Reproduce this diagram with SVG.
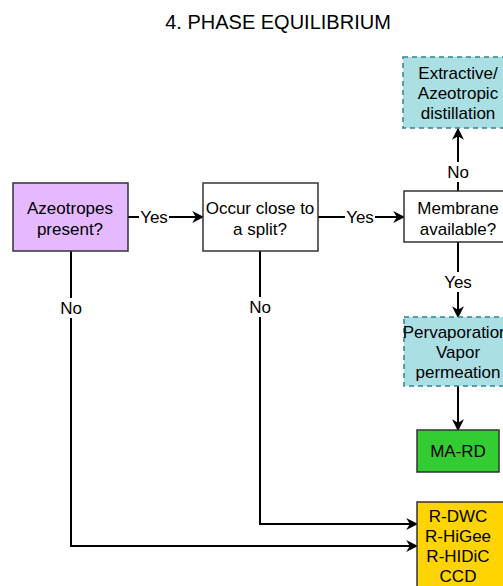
<svg xmlns="http://www.w3.org/2000/svg" width="503" height="586" viewBox="0 0 503 586">
<defs>
<marker id="arr" viewBox="0 0 10 10" refX="9" refY="5" markerWidth="12" markerHeight="12" markerUnits="userSpaceOnUse" orient="auto">
<path d="M0,0 L10,5 L0,10 L3,5 Z" fill="#000"/>
</marker>
<style>
text{font-family:"Liberation Sans",Arial,sans-serif;font-size:17px;fill:#000;text-anchor:middle}
.title{font-size:20px}
.box{stroke:#333;stroke-width:1.5}
.dash{stroke:#2a8590;stroke-width:1.5;stroke-dasharray:5 4;fill:#aadfe4}
.ln{fill:none;stroke:#000;stroke-width:2}
.lbl{fill:#fff}
</style>
</defs>
<rect width="503" height="586" fill="#fff"/>
<text class="title" x="278" y="29">4. PHASE EQUILIBRIUM</text>

<g id="connectors">
<path class="ln" d="M128,217 H203" marker-end="url(#arr)"/>
<path class="ln" d="M318,217 H404" marker-end="url(#arr)"/>
<path class="ln" d="M458,191 V129" marker-end="url(#arr)"/>
<path class="ln" d="M458,242 V317" marker-end="url(#arr)"/>
<path class="ln" d="M458,386 V430" marker-end="url(#arr)"/>
<path class="ln" d="M260,251 V524 H417" marker-end="url(#arr)"/>
<path class="ln" d="M71,251 V546 H417" marker-end="url(#arr)"/>
<rect class="lbl" x="139" y="207" width="30" height="20"/>
<text x="154" y="223">Yes</text>
<rect class="lbl" x="345" y="207" width="30" height="20"/>
<text x="360" y="223">Yes</text>
<rect class="lbl" x="446" y="162" width="24" height="20"/>
<text x="458" y="178">No</text>
<rect class="lbl" x="443" y="272" width="30" height="20"/>
<text x="458" y="288">Yes</text>
<rect class="lbl" x="59" y="298" width="24" height="20"/>
<text x="71" y="314">No</text>
<rect class="lbl" x="248" y="297" width="24" height="20"/>
<text x="260" y="313">No</text>
</g>

<g id="azeotropes">
<rect class="box" x="13" y="183" width="115" height="68" fill="#e5b9ff"/>
<text x="70" y="214">Azeotropes</text>
<text x="70" y="235">present?</text>
</g>
<g id="occur">
<rect class="box" x="203" y="183" width="115" height="68" fill="#fff"/>
<text x="260" y="214">Occur close to</text>
<text x="260" y="235">a split?</text>
</g>
<g id="membrane">
<rect class="box" x="404" y="191" width="108" height="51" fill="#fff"/>
<text x="458" y="214">Membrane</text>
<text x="458" y="235">available?</text>
</g>
<g id="extractive">
<rect class="dash" x="403" y="57" width="110" height="71"/>
<text x="458" y="79">Extractive/</text>
<text x="458" y="99">Azeotropic</text>
<text x="458" y="119">distillation</text>
</g>
<g id="pervaporation">
<rect class="dash" x="404" y="317" width="110" height="69"/>
<text x="458" y="338">Pervaporation/</text>
<text x="458" y="358">Vapor</text>
<text x="458" y="378">permeation</text>
</g>
<g id="mard">
<rect class="box" x="417" y="430" width="82" height="42" fill="#33cc33"/>
<text x="458" y="457">MA-RD</text>
</g>
<g id="rdwc">
<rect class="box" x="417" y="502" width="90" height="90" fill="#ffd400"/>
<text x="458" y="522">R-DWC</text>
<text x="458" y="542">R-HiGee</text>
<text x="458" y="562">R-HIDiC</text>
<text x="458" y="582">CCD</text>
</g>
</svg>
